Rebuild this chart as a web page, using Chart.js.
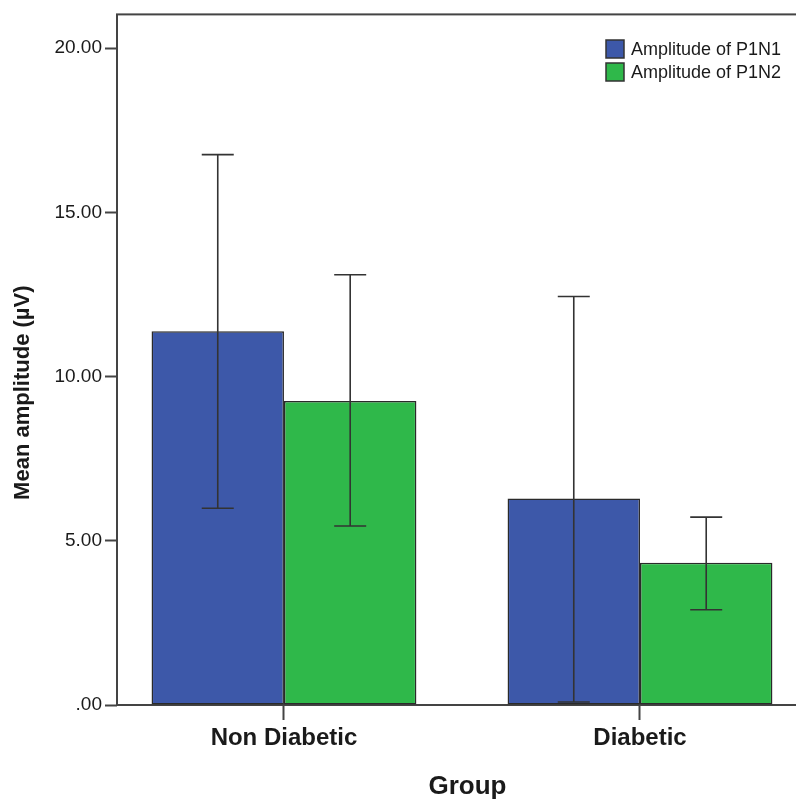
<!DOCTYPE html>
<html>
<head>
<meta charset="utf-8">
<script src="https://cdn.jsdelivr.net/npm/chart.js@4"></script>
<style>
  html, body { margin: 0; padding: 0; background: #fff; overflow: hidden; }
  #wrap { width: 830px; height: 800px; }
</style>
</head>
<body>
<div id="wrap"><canvas id="ampChart" width="830" height="800"></canvas></div>
<script>
// Group means and 95% CI limits
const groups = ['Non Diabetic', 'Diabetic'];
const seriesLabels = ['Amplitude of P1N1', 'Amplitude of P1N2'];
const p1n1Mean = [11.38, 6.29];
const p1n1Lower = [5.99, 0.09];
const p1n1Upper = [16.76, 12.44];
const p1n2Mean = [9.26, 4.33];
const p1n2Lower = [5.45, 2.90];
const p1n2Upper = [13.10, 5.72];
const yTicks = [0, 5, 10, 15, 20];
const yTitle = 'Mean amplitude (µV)';

const FONT = "'Liberation Sans', Arial, sans-serif";
const INK = '#1a1a1a';

function toPoints(values) {
    return values.map((v, i) => ({ x: i + 1, y: v }));
}

// frame around plot area + y axis title (sits a little below centre in the original)
const framePlugin = {
    id: 'frame',
    beforeDatasetsDraw(chart) {
        const { ctx, chartArea } = chart;
        ctx.save();
        ctx.strokeStyle = '#444';
        ctx.lineWidth = 2;
        ctx.strokeRect(chartArea.left, chartArea.top, chartArea.right - chartArea.left, chartArea.bottom - chartArea.top);

        ctx.translate(23, (chartArea.top + chartArea.bottom) / 2 + 33);
        ctx.rotate(-Math.PI / 2);
        ctx.font = 'bold 22px ' + FONT;
        ctx.fillStyle = INK;
        ctx.textAlign = 'center';
        ctx.textBaseline = 'middle';
        ctx.fillText(yTitle, 0, 0);
        ctx.restore();
    }
};

// error bars drawn from the lower/upper arrays
const errorBarPlugin = {
    id: 'errorBars',
    afterDatasetsDraw(chart) {
        const { ctx } = chart;
        const yScale = chart.scales.y;
        ctx.save();
        ctx.strokeStyle = '#333';
        ctx.lineWidth = 1.6;
        chart.data.datasets.forEach((ds, di) => {
            const meta = chart.getDatasetMeta(di);
            meta.data.forEach((bar, i) => {
                const x = bar.x;
                const yLo = yScale.getPixelForValue(ds.lower[i]);
                const yHi = yScale.getPixelForValue(ds.upper[i]);
                const cap = 16;
                ctx.beginPath();
                ctx.moveTo(x, yLo);
                ctx.lineTo(x, yHi);
                ctx.moveTo(x - cap, yHi);
                ctx.lineTo(x + cap, yHi);
                ctx.moveTo(x - cap, yLo);
                ctx.lineTo(x + cap, yLo);
                ctx.stroke();
            });
        });
        ctx.restore();
    }
};

// legend box inside the plot, top right
const boxLegendPlugin = {
    id: 'boxLegend',
    afterDraw(chart) {
        const { ctx } = chart;
        const x0 = 606, y0 = 40, box = 18, row = 23;
        ctx.save();
        ctx.font = '18px ' + FONT;
        ctx.textBaseline = 'middle';
        ctx.textAlign = 'left';
        chart.data.datasets.forEach((ds, i) => {
            const y = y0 + i * row;
            ctx.fillStyle = ds.backgroundColor;
            ctx.fillRect(x0, y, box, box);
            ctx.strokeStyle = '#333';
            ctx.lineWidth = 1.5;
            ctx.strokeRect(x0, y, box, box);
            ctx.fillStyle = INK;
            ctx.fillText(ds.label, x0 + box + 7, y + box / 2 + 1);
        });
        ctx.restore();
    }
};

const ctx = document.getElementById('ampChart').getContext('2d');

new Chart(ctx, {
    type: 'bar',
    data: {
        datasets: [{
            label: seriesLabels[0],
            data: toPoints(p1n1Mean),
            lower: p1n1Lower,
            upper: p1n1Upper,
            backgroundColor: '#3d58a9',
            borderColor: '#2a2a2a',
            borderWidth: 1.5,
            borderSkipped: false
        }, {
            label: seriesLabels[1],
            data: toPoints(p1n2Mean),
            lower: p1n2Lower,
            upper: p1n2Upper,
            backgroundColor: '#2fb84a',
            borderColor: '#2a2a2a',
            borderWidth: 1.5,
            borderSkipped: false
        }]
    },
    options: {
        responsive: false,
        animation: false,
        layout: { padding: { top: 10, right: 12, left: 0, bottom: 0 } },
        datasets: { bar: { barPercentage: 1.0, categoryPercentage: 0.744 } },
        plugins: {
            legend: { display: false },
            tooltip: { enabled: false }
        },
        scales: {
            x: {
                type: 'linear',
                offset: false,
                min: 0.531,
                max: 2.5,
                afterFit(scale) { scale.height = 95; },
                afterBuildTicks(scale) {
                    scale.ticks = groups.map((g, i) => ({ value: i + 1 }));
                },
                ticks: {
                    autoSkip: false,
                    maxRotation: 0,
                    padding: 4,
                    color: INK,
                    font: { family: FONT, size: 24, weight: 'bold' },
                    callback: (v) => groups[v - 1]
                },
                grid: {
                    offset: false,
                    drawOnChartArea: false,
                    drawTicks: true,
                    tickLength: 15,
                    tickColor: '#444',
                    tickWidth: 2
                },
                border: { display: false },
                title: {
                    display: true,
                    text: 'Group',
                    color: INK,
                    padding: { top: 0, bottom: -2 },
                    font: { family: FONT, size: 26, weight: 'bold' }
                }
            },
            y: {
                min: 0,
                max: 21.03,
                afterFit(scale) { scale.width = 117; },
                afterBuildTicks(scale) {
                    scale.ticks = yTicks.map(v => ({ value: v }));
                },
                ticks: {
                    padding: 3,
                    color: INK,
                    font: { family: FONT, size: 19 },
                    callback: (v) => v === 0 ? '.00' : v.toFixed(2)
                },
                grid: {
                    drawOnChartArea: false,
                    drawTicks: true,
                    tickLength: 12,
                    tickColor: '#444',
                    tickWidth: 2
                },
                border: { display: false },
                title: { display: false }
            }
        }
    },
    plugins: [framePlugin, errorBarPlugin, boxLegendPlugin]
});
</script>
</body>
</html>
